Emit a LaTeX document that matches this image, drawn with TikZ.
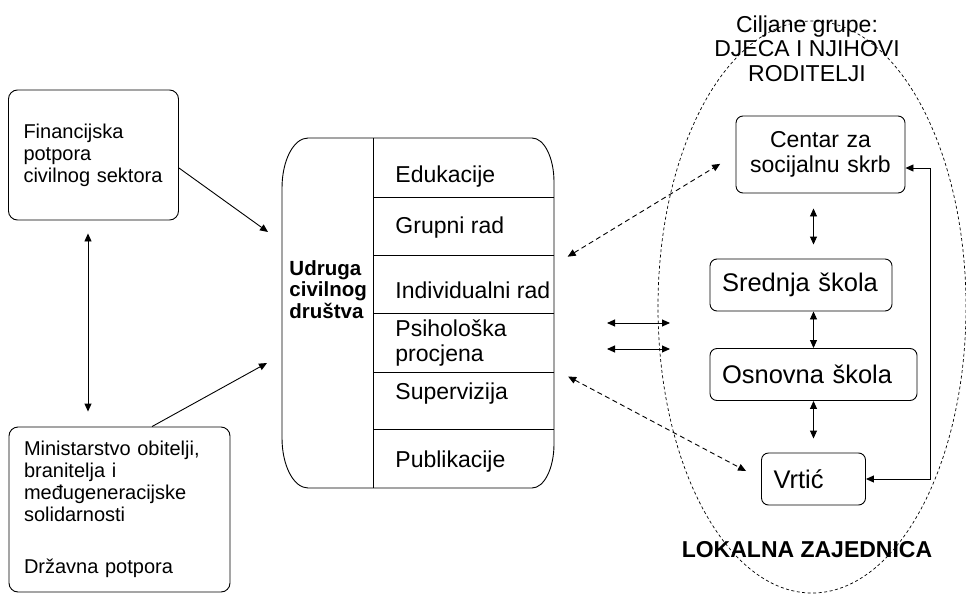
\documentclass[tikz,border=0pt]{standalone}
\usepackage{fontspec}
\setmainfont{Liberation Sans}
\usetikzlibrary{shapes, arrows.meta, positioning}

\begin{document}
\begin{tikzpicture}[x=1pt, y=-1pt, line width=0.9pt,
    block/.style={rectangle, draw, rounded corners=9pt, align=left, inner xsep=15pt, font=\fontsize{20}{22}\selectfont},
    inst/.style={rectangle, draw, rounded corners=7pt, align=left, inner xsep=12pt, inner ysep=0pt, minimum height=52pt, font=\fontsize{25.5}{28}\selectfont},
    activity/.style={anchor=base west, inner sep=0pt, font=\fontsize{23}{25}\selectfont},
    link/.style={draw, -{Triangle[length=8pt, width=7pt]}},
    twoway/.style={draw, {Triangle[length=8pt, width=7pt]}-{Triangle[length=8pt, width=7pt]}},
    dlink/.style={twoway, dash pattern=on 5pt off 3.5pt}
]
    \useasboundingbox (0,0) rectangle (966,594);

    % Funding
    \node [block, text width=140pt, minimum height=130pt] (fin) at (93.5,155) {Financijska\\potpora\\civilnog sektora};
    \node [block, text width=191pt, minimum height=165pt] (min) at (119.5,509.5) {Ministarstvo obitelji,\\branitelja i\\međugeneracijske\\solidarnosti\\[30pt]Državna potpora};

    % Association
    \node [minimum width=272pt, minimum height=350pt, inner sep=0pt, outer sep=0pt] (udruga) at (418,313) {};
    \draw ([xshift=26pt]udruga.north west) -- ([xshift=-22pt]udruga.north east)
        arc[start angle=90, end angle=0, x radius=22pt, y radius=44pt] -- ([yshift=44pt]udruga.south east)
        arc[start angle=0, end angle=-90, x radius=22pt, y radius=44pt] -- ([xshift=26pt]udruga.south west)
        arc[start angle=270, end angle=180, x radius=26pt, y radius=50pt] -- ([yshift=-50pt]udruga.north west)
        arc[start angle=180, end angle=90, x radius=26pt, y radius=50pt] -- cycle;
    \draw ([xshift=-45pt]udruga.north) -- ([xshift=-45pt]udruga.south);
    \foreach \y in {197,255,313,372,429}
        \draw (373,\y) -- (udruga.east |- 0,\y);
    \node [anchor=north west, inner sep=0pt, align=left, font=\bfseries\fontsize{20.5}{21.5}\selectfont] (title) at (289,260) {Udruga\\civilnog\\društva};
    \node [activity] (edu) at (395,182) {Edukacije};
    \node [activity] (grupni) at (395,233) {Grupni rad};
    \node [activity] (indiv) at (395,298) {Individualni rad};
    \node [activity, anchor=north west, align=left] (psih) at (395,319) {Psihološka\\procjena};
    \node [activity] (superv) at (395,399) {Supervizija};
    \node [activity] (publ) at (395,467) {Publikacije};

    % Community
    \node [draw, ellipse, dashed, line width=0.7pt, dash pattern=on 3pt off 2.5pt, minimum width=308pt, minimum height=572pt] (zajednica) at (812,307) {};
    \node [anchor=north, inner sep=0pt, align=center, font=\fontsize{23}{24.5}\selectfont] (ciljane) at (807,15) {Ciljane grupe:\\DJECA I NJIHOVI\\RODITELJI};
    \node [font=\bfseries\fontsize{23}{25}\selectfont] (lokalna) at (807,550) {LOKALNA ZAJEDNICA};

    \node [inst, align=center, text width=145pt, minimum height=77pt, font=\fontsize{23}{25}\selectfont] (centar) at (820.5,154.5) {Centar za\\socijalnu skrb};
    \node [inst, text width=158pt] (srednja) at (801,285) {Srednja škola};
    \node [inst, text width=183pt] (osnovna) at (813.5,374.5) {Osnovna škola};
    \node [inst, text width=80pt] (vrtic) at (813.5,479) {Vrtić};

    % Connections
    \path [link] ([yshift=-13pt]fin.east) -- ([xshift=-14pt, yshift=81pt]udruga.west);
    \path [link] ([xshift=32.5pt]min.north) -- ([xshift=-15pt, yshift=-50pt]udruga.west);
    \path [twoway, shorten <=13pt, shorten >=15pt] ([xshift=-5.5pt]fin.south) -- ([xshift=-31.5pt]min.north);

    \path [twoway, shorten <=15pt, shorten >=14pt] (centar.south -| osnovna) -- (srednja.north -| osnovna);
    \path [twoway] (srednja.south -| osnovna) -- (osnovna.north);
    \path [twoway, shorten >=14pt] (osnovna.south) -- (vrtic.north);
    \path [twoway] ([yshift=-13.5pt]centar.east) -- ++(25,0) |- (vrtic.east);

    \path [dlink, shorten <=16pt, shorten >=18pt] ([yshift=48pt]udruga.east) -- (centar.west);
    \path [dlink, shorten <=16pt, shorten >=17pt] ([yshift=-56pt]udruga.east) -- (vrtic.west);

    \coordinate (l1) at (607,323);
    \coordinate (r1) at (670,323);
    \coordinate (l2) at (607,349);
    \coordinate (r2) at (670,349);
    \path [twoway] (l1) -- (r1);
    \path [twoway] (l2) -- (r2);
\end{tikzpicture}
\end{document}
